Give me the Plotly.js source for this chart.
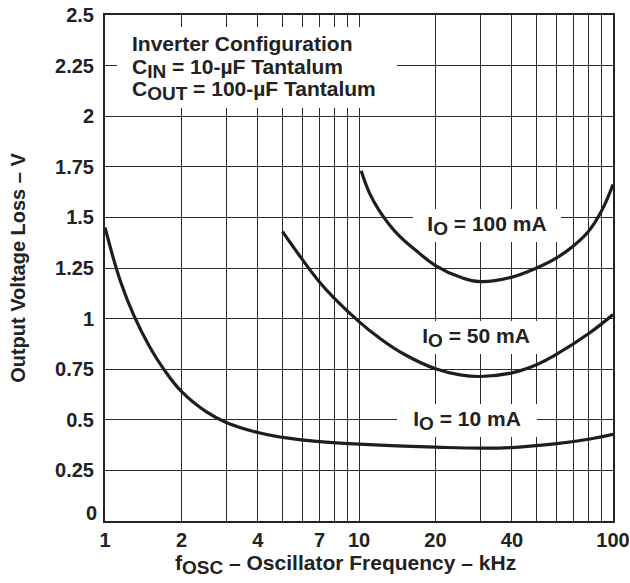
<!DOCTYPE html>
<html>
<head>
<meta charset="utf-8">
<script src="https://cdn.plot.ly/plotly-3.0.1.min.js"></script>
<style>html,body{margin:0;padding:0;background:#fff;}</style>
</head>
<body>
<div id="chart" style="width:630px;height:583px;"></div>
<script>
// ---- data ----
const f10 = [1, 1.15, 1.3, 1.5, 1.7, 2, 2.5, 3, 4, 5, 7, 10, 15, 20, 30, 40, 60, 80, 100];
const v10 = [1.45, 1.185, 1.015, 0.86, 0.752, 0.64, 0.54, 0.487, 0.437, 0.413, 0.392, 0.38, 0.37, 0.365, 0.36, 0.363, 0.382, 0.404, 0.428];
const f50 = [5, 6, 7, 8, 10, 12, 15, 20, 25, 30, 40, 50, 60, 80, 100];
const v50 = [1.43, 1.29, 1.18, 1.10, 0.985, 0.905, 0.825, 0.752, 0.722, 0.714, 0.732, 0.772, 0.824, 0.925, 1.02];
const f100 = [10.2, 11, 12, 14, 17, 20, 25, 30, 40, 50, 60, 70, 80, 90, 100];
const v100 = [1.73, 1.62, 1.535, 1.425, 1.33, 1.262, 1.205, 1.183, 1.205, 1.25, 1.30, 1.36, 1.43, 1.53, 1.662];

const xTickVals = [1, 2, 3, 4, 5, 6, 7, 8, 9, 10, 20, 30, 40, 50, 60, 70, 80, 90, 100];
const xTickText = ['1', '2', '', '4', '', '', '7', '', '', '10', '20', '', '40', '', '', '', '', '', '100'];
const yTickVals = [0, 0.25, 0.5, 0.75, 1, 1.25, 1.5, 1.75, 2, 2.25, 2.5];
const yTickText = ['', '0.25', '0.5', '0.75', '1', '1.25', '1.5', '1.75', '2', '2.25', '2.5'];

const SUB = (s) => '<sub><span style="font-size:19px">' + s + '</span></sub>';
const curveLabels = ['I' + SUB('O') + ' = 10 mA', 'I' + SUB('O') + ' = 50 mA', 'I' + SUB('O') + ' = 100 mA'];
const labelF = [26.6, 28.8, 31.9];
const labelV = [0.495, 0.908, 1.459];

const infoLines = ['Inverter Configuration',
                   'C' + SUB('IN') + ' = 10-µF Tantalum',
                   'C' + SUB('OUT') + ' = 100-µF Tantalum'];
const xTitle = 'f' + SUB('OSC') + ' – Oscillator Frequency – kHz';
const yTitle = 'Output Voltage Loss – V';

// ---- styling ----
const FONT = {family: 'Liberation Sans, Arial, sans-serif', size: 20, color: '#222', weight: 'bold'};
const AFONT = {family: 'Liberation Sans, Arial, sans-serif', size: 21, color: '#222', weight: 'bold'};
const INK = '#1e1e1e';
const LINE = {color: INK, width: 3.2, shape: 'spline', smoothing: 1.2};

const traces = [
  {x: f10, y: v10, mode: 'lines', line: LINE, hoverinfo: 'skip'},
  {x: f50, y: v50, mode: 'lines', line: LINE, hoverinfo: 'skip'},
  {x: f100, y: v100, mode: 'lines', line: LINE, hoverinfo: 'skip'}
];

const annotations = [];
// white box behind the info text
annotations.push({xref: 'paper', yref: 'paper', x: 0.0236, y: 0.9763, xanchor: 'left', yanchor: 'top',
  text: ' ', showarrow: false, width: 280, height: 81, bgcolor: '#fff', borderpad: 0, borderwidth: 0, font: AFONT});
const infoY = [0.9763 - 0.0059, 0.9763 - 0.0523, 0.9763 - 0.0948];
infoLines.forEach((t, i) => annotations.push({xref: 'paper', yref: 'paper', x: 0.0492, y: infoY[i],
  xanchor: 'left', yanchor: 'top', align: 'left', text: t, showarrow: false, font: AFONT}));
// curve labels
const labelW = [138, 134, 146];
curveLabels.forEach((t, i) => annotations.push({xref: 'x', yref: 'y', x: Math.log10(labelF[i]), y: labelV[i],
  xanchor: 'center', yanchor: 'middle', text: t, showarrow: false, font: AFONT,
  bgcolor: '#fff', width: labelW[i], height: 31, borderpad: 1, borderwidth: 0}));
// zero label (sits slightly above the axis in the reference)
annotations.push({xref: 'paper', yref: 'y', x: 0, y: yTickVals[0], xanchor: 'right', yanchor: 'middle',
  xshift: -6, yshift: 8, text: '0', showarrow: false, font: FONT});
// x-axis title (slightly left of centre in the reference)
annotations.push({xref: 'paper', yref: 'paper', x: 0.473, y: 0, xanchor: 'center', yanchor: 'top',
  yshift: -28, text: xTitle, showarrow: false, font: AFONT});

const layout = {
  width: 630, height: 583,
  margin: {l: 105, r: 17, t: 15, b: 62},
  paper_bgcolor: '#fff', plot_bgcolor: '#fff',
  showlegend: false,
  font: FONT,
  xaxis: {
    type: 'log', range: [0, 2],
    tickmode: 'array', tickvals: xTickVals, ticktext: xTickText,
    showgrid: true, gridcolor: '#2a2a2a', gridwidth: 1,
    showline: true, linecolor: '#222', linewidth: 2, mirror: true,
    ticks: '', tickfont: FONT, ticklabelstandoff: 0,
    zeroline: false
  },
  yaxis: {
    range: [0, 2.5],
    tickmode: 'array', tickvals: yTickVals, ticktext: yTickText,
    showgrid: true, gridcolor: '#2a2a2a', gridwidth: 1,
    showline: true, linecolor: '#222', linewidth: 2, mirror: true,
    ticks: '', tickfont: FONT, ticklabelstandoff: 5,
    zeroline: false,
    title: {text: yTitle, font: FONT, standoff: 24}
  },
  annotations: annotations
};

Plotly.newPlot('chart', traces, layout, {displayModeBar: false, staticPlot: true});
</script>
</body>
</html>
